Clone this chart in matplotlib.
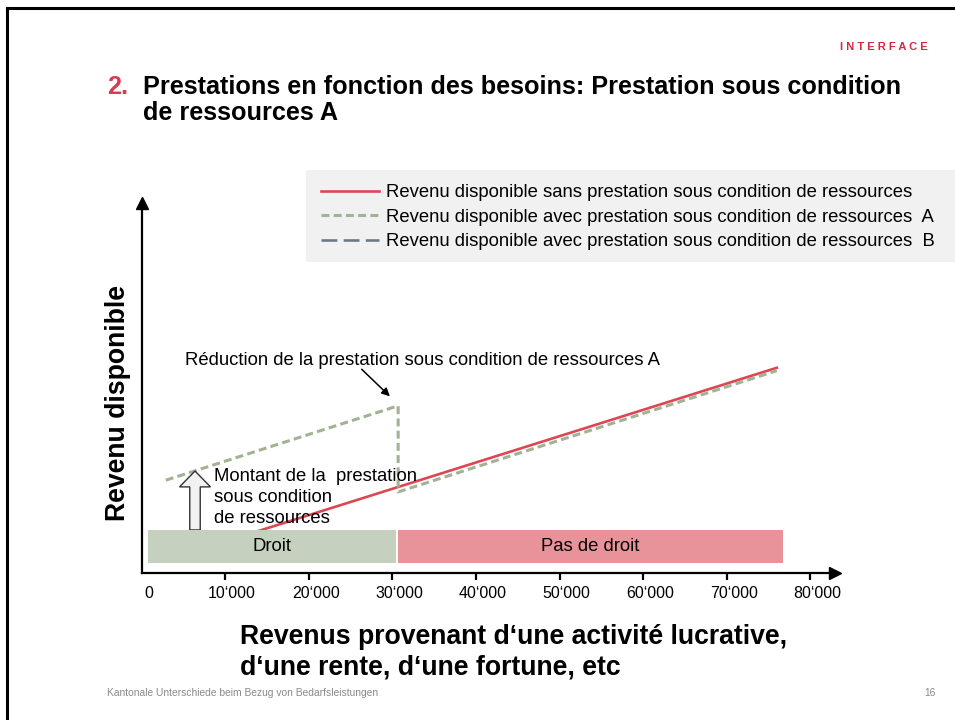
import matplotlib.pyplot as plt
import matplotlib.transforms as mtransforms
from matplotlib.patches import Rectangle
from matplotlib.lines import Line2D

plt.rcParams['font.family'] = ['Liberation Sans', 'DejaVu Sans']

# --- data (income in CHF, disposable income in the same units) ---
ticks = [0, 10000, 20000, 30000, 40000, 50000, 60000, 70000, 80000]
tick_labels = ['0', '10‘000', '20‘000', '30‘000', '40‘000', '50‘000',
               '60‘000', '70‘000', '80‘000']

sans_x = [12000, 76000]
sans_y = [4400, 24550]

avec_a_x = [2900, 30700, 30700, 76000]
avec_a_y = [11100, 20000, 9700, 24200]

zone_labels = ['Droit', 'Pas de droit']
zone_left = [800, 30700]
zone_right = [30450, 76700]
zone_bottom = 1200
zone_top = 5150

red = '#dc4753'
green = '#a2b394'
slate = '#6b7b89'

fig = plt.figure(figsize=(9.55, 7.2), dpi=100)
W, H = 955, 720

# frame of the slide
fig.add_artist(Line2D([7 / W, 1], [1 - 8 / H, 1 - 8 / H], color='black', lw=2.2))
fig.add_artist(Line2D([7 / W, 7 / W], [0, 1 - 8 / H], color='black', lw=2.2))

# header
fig.text(840 / W, 1 - 47 / H, 'I N T E R F A C E', color='#d7263d',
         fontsize=8, fontweight='bold', va='center')
fig.text(107 / W, 1 - 87 / H, '2.', color='#d63d55', fontsize=18.2,
         fontweight='bold', va='center')
fig.text(143 / W, 1 - 75 / H,
         'Prestations en fonction des besoins: Prestation sous condition\n'
         'de ressources A', color='black', fontsize=18.2, fontweight='bold',
         va='top', linespacing=1.1)

# footer
fig.text(107 / W, 1 - 693 / H,
         'Kantonale Unterschiede beim Bezug von Bedarfsleistungen',
         color='#8a8a8a', fontsize=7.4, va='center')
fig.text(930 / W, 1 - 693 / H, '16', color='#8a8a8a', fontsize=7.4,
         va='center', ha='center')

# legend background
fig.add_artist(Rectangle((306 / W, 1 - 262 / H), (W - 306) / W, 92 / H,
                         transform=fig.transFigure, facecolor='#f1f1f1',
                         edgecolor='none'))

# main axes: x 0..83000, y 0..44300 with same pixel scale
px = 0.00836
ax = fig.add_axes([141.5 / W, (H - 573) / H, 83000 * px / W, 44300 * px / H])
ax.set_xlim(0, 83000)
ax.set_ylim(0, 44300)
ax.patch.set_alpha(0)

for s in ['top', 'right']:
    ax.spines[s].set_visible(False)
for s in ['left', 'bottom']:
    ax.spines[s].set_linewidth(1.6)
ax.plot(1, 0, '>k', ms=8, transform=ax.transAxes, clip_on=False)
ax.plot(0, 1, '^k', ms=8, transform=ax.transAxes, clip_on=False)

ax.set_yticks([])
ax.set_xticks(ticks)
ax.set_xticklabels(tick_labels, fontsize=11.5)
ax.tick_params(axis='x', direction='out', length=5, width=1.6, pad=4)
ax.xaxis.get_major_ticks()[0].tick1line.set_visible(False)
offset = mtransforms.ScaledTranslation(5 / 72, 0, fig.dpi_scale_trans)
for lab in ax.get_xticklabels():
    lab.set_transform(lab.get_transform() + offset)

# lines
ax.plot(sans_x, sans_y, color=red, lw=1.9, zorder=2,
        label='Revenu disponible sans prestation sous condition de ressources')
ax.plot(avec_a_x, avec_a_y, color=green, lw=2.2, dashes=(2.6, 1.4), zorder=2,
        label='Revenu disponible avec prestation sous condition de ressources  A')
ax.plot([], [], color=slate, lw=1.9, dashes=(6, 2.4),
        label='Revenu disponible avec prestation sous condition de ressources  B')

# entitlement zones
zone_colors = ['#c5d1be', '#e8939a']
for lab, l, r, c in zip(zone_labels, zone_left, zone_right, zone_colors):
    ax.add_patch(Rectangle((l, zone_bottom), r - l, zone_top - zone_bottom,
                           facecolor=c, edgecolor='none', zorder=4))
    ax.text((l + r) / 2, (zone_bottom + zone_top) / 2, lab, fontsize=13.3,
            ha='center', va='center', zorder=5)

# benefit amount arrow
ax.arrow(6400, zone_top, 0, 12200 - zone_top, width=1250, head_width=3700,
         head_length=1900, length_includes_head=True, facecolor='#f2f2f2',
         edgecolor='#333333', lw=1, zorder=3)
ax.text(8700, 12600, 'Montant de la  prestation\nsous condition\nde ressources',
        fontsize=13.3, va='top', ha='left', linespacing=1.32, zorder=3)

ax.annotate('Réduction de la prestation sous condition de ressources A',
            xy=(29950, 20900), xytext=(5200, 25450), fontsize=13.3,
            va='center', ha='left')
ax.annotate('', xy=(29950, 20900), xytext=(26100, 24600),
            arrowprops=dict(arrowstyle='-|>', color='black', lw=1.1,
                            mutation_scale=12))

ax.set_ylabel('Revenu disponible', fontsize=19.2, fontweight='bold',
              va='center')
ax.yaxis.set_label_coords(-0.034, 0.459)
ax.set_xlabel('Revenus provenant d‘une activité lucrative,\n'
              'd‘une rente, d‘une fortune, etc', fontsize=19.2,
              fontweight='bold', ha='left', va='top', linespacing=1.2)
ax.xaxis.set_label_coords(0.142, -0.138)

fig.legend(loc='upper left', bbox_to_anchor=(312 / W, 1 - 175 / H),
           frameon=False, fontsize=13.3, handlelength=3.1, handletextpad=0.38,
           labelspacing=0.4, borderpad=0)

fig.savefig('out.png', dpi=100)
